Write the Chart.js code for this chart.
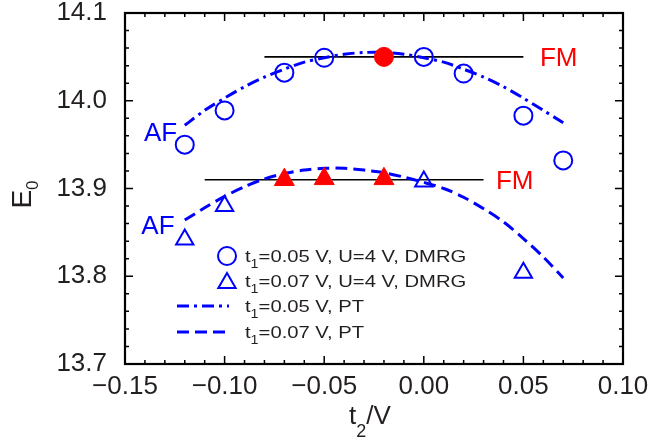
<!DOCTYPE html>
<html>
<head>
<meta charset="utf-8">
<script src="https://cdn.jsdelivr.net/npm/chart.js@4.4.1/dist/chart.umd.min.js"></script>
<style>
	html, body { margin: 0; padding: 0; background: #fff; }
	canvas { display: block; }
</style>
</head>
<body>
<canvas id="energy_chart" width="648" height="441"></canvas>
<script>
// DMRG ground state energies, t1 = 0.05 V (open circles) and the FM point (filled)
const dmrg_005_t2 = [-0.12, -0.1, -0.07, -0.05, 0.0, 0.02, 0.05, 0.07]
const dmrg_005_e0 = [13.95, 13.989, 14.032, 14.049, 14.05, 14.031, 13.983, 13.932]
const dmrg_005_fm_t2 = [-0.02]
const dmrg_005_fm_e0 = [14.05]

// DMRG, t1 = 0.07 V (open triangles) and FM points (filled)
const dmrg_007_t2 = [-0.12, -0.1, 0.0, 0.05]
const dmrg_007_e0 = [13.842, 13.88, 13.908, 13.804]
const dmrg_007_fm_t2 = [-0.07, -0.05, -0.02]
const dmrg_007_fm_e0 = [13.91, 13.911, 13.911]

// perturbation theory curves
const pt_t2 = [-0.12, -0.11, -0.1, -0.09, -0.08, -0.07, -0.06, -0.05, -0.04, -0.03,
	-0.02, -0.01, 0.0, 0.01, 0.02, 0.03, 0.04, 0.05, 0.06, 0.07]
const pt_005_e0 = [13.972, 13.989, 14.003, 14.016, 14.027, 14.036, 14.044, 14.049, 14.053, 14.055,
	14.055, 14.053, 14.049, 14.044, 14.036, 14.027, 14.016, 14.003, 13.989, 13.975]
const pt_007_e0 = [13.864, 13.878, 13.891, 13.902, 13.911, 13.917, 13.921, 13.923, 13.923, 13.921,
	13.918, 13.913, 13.907, 13.9, 13.89, 13.877, 13.862, 13.843, 13.822, 13.798]

// FM energy levels (black lines)
const fm_005_t2 = [-0.08, 0.05]
const fm_005_e0 = [14.05, 14.05]
const fm_007_t2 = [-0.11, 0.03]
const fm_007_e0 = [13.91, 13.91]

const x_ticks = [-0.15, -0.1, -0.05, 0.0, 0.05, 0.1]
const y_ticks = [13.7, 13.8, 13.9, 14.0, 14.1]
const legend_labels = [
	't_1=0.05 V, U=4 V, DMRG',
	't_1=0.07 V, U=4 V, DMRG',
	't_1=0.05 V, PT',
	't_1=0.07 V, PT',
]
const state_labels = ['AF', 'AF', 'FM', 'FM']

const font_family = '"Liberation Sans", Arial, Helvetica, sans-serif'
const blue = '#0000ff'
const red = '#ff0000'
const ink = '#231f20'
const dash_dot = [12, 5, 3, 5]
const dashed = [12, 6]

Chart.defaults.font.family = font_family

const to_points = (xs, ys) => xs.map((x, i) => ({ x: x, y: ys[i] }))

// 't_1=...' -> [['t', false], ['1', true], ['=...', false]]
function split_sub(str) {
	const parts = []
	let buf = ''
	for (let i = 0; i < str.length; i++) {
		if (str[i] === '_') {
			if (buf) parts.push([buf, false])
			parts.push([str[i + 1], true])
			buf = ''
			i++
		} else {
			buf += str[i]
		}
	}
	if (buf) parts.push([buf, false])
	return parts
}

function sub_text_width(ctx, str, size, sub_size) {
	let w = 0
	for (const [t, is_sub] of split_sub(str)) {
		ctx.font = (is_sub ? sub_size : size) + 'px ' + font_family
		w += ctx.measureText(t).width
	}
	return w
}

function draw_sub_text(ctx, str, x, y, size, sub_size, sub_drop) {
	let cx = x
	for (const [t, is_sub] of split_sub(str)) {
		ctx.font = (is_sub ? sub_size : size) + 'px ' + font_family
		ctx.fillText(t, cx, is_sub ? y + sub_drop : y)
		cx += ctx.measureText(t).width
	}
}

function draw_marker(ctx, style, x, y, radius, color, filled) {
	ctx.save()
	ctx.strokeStyle = color
	ctx.fillStyle = filled ? color : 'rgba(0,0,0,0)'
	ctx.lineWidth = 2
	Chart.helpers.drawPoint(ctx, { pointStyle: style, radius: radius, rotation: 0, borderWidth: 2 }, x, y)
	ctx.restore()
}

// closed frame with inward ticks on all four sides
const frame_plugin = {
	id: 'frame',
	afterDraw(chart) {
		const ctx = chart.ctx
		const a = chart.chartArea
		const xs = chart.scales.x
		const ys = chart.scales.y
		ctx.save()
		ctx.strokeStyle = '#000'
		ctx.lineWidth = 1.5
		ctx.beginPath()
		for (let i = 0; i <= 25; i++) {
			const px = xs.getPixelForValue(xs.min + i * 0.01)
			const len = i % 5 === 0 ? 8 : 4
			ctx.moveTo(px, a.bottom)
			ctx.lineTo(px, a.bottom - len)
			ctx.moveTo(px, a.top)
			ctx.lineTo(px, a.top + len)
		}
		for (let i = 0; i <= 20; i++) {
			const py = ys.getPixelForValue(ys.min + i * 0.02)
			const len = i % 5 === 0 ? 8 : 4
			ctx.moveTo(a.left, py)
			ctx.lineTo(a.left + len, py)
			ctx.moveTo(a.right, py)
			ctx.lineTo(a.right - len, py)
		}
		ctx.stroke()
		ctx.lineWidth = 2.2
		ctx.strokeRect(a.left, a.top, a.right - a.left, a.bottom - a.top)
		ctx.restore()
	},
}

// axis titles with subscripts, state labels and the inset legend
const text_plugin = {
	id: 'texts',
	afterDraw(chart) {
		const ctx = chart.ctx
		const a = chart.chartArea
		const xs = chart.scales.x
		const ys = chart.scales.y
		ctx.save()
		ctx.textBaseline = 'alphabetic'
		ctx.textAlign = 'left'

		// x title
		ctx.fillStyle = ink
		const xt = 't_2/V'
		const xw = sub_text_width(ctx, xt, 26, 18)
		draw_sub_text(ctx, xt, (a.left + a.right) / 2 - xw / 2 - 4, a.bottom + 60, 26, 18, 13)

		// y title, rotated
		const yt = 'E_0'
		const yw = sub_text_width(ctx, yt, 28, 17)
		ctx.save()
		ctx.translate(31, (a.top + a.bottom) / 2 + 6)
		ctx.rotate(-Math.PI / 2)
		draw_sub_text(ctx, yt, -yw / 2, 0, 28, 17, 7)
		ctx.restore()

		// AF / FM labels
		const spots = [
			[-0.1405, 13.954, blue],
			[-0.1418, 13.848, blue],
			[0.0583, 14.04, red],
			[0.0362, 13.899, red],
		]
		ctx.font = '26px ' + font_family
		state_labels.forEach((t, i) => {
			ctx.fillStyle = spots[i][2]
			ctx.fillText(t, xs.getPixelForValue(spots[i][0]), ys.getPixelForValue(spots[i][1]))
		})

		// legend
		const lx = a.left + 102
		const rows = [a.top + 243, a.top + 268, a.top + 293, a.top + 319]
		draw_marker(ctx, 'circle', lx, rows[0], 9, blue, false)
		draw_marker(ctx, 'triangle', lx, rows[1] + 2, 10, blue, false)
		ctx.strokeStyle = blue
		ctx.lineWidth = 3
		;[dash_dot, dashed].forEach((d, i) => {
			ctx.setLineDash(d)
			ctx.beginPath()
			ctx.moveTo(a.left + 52, rows[2 + i])
			ctx.lineTo(a.left + 104, rows[2 + i])
			ctx.stroke()
		})
		ctx.setLineDash([])
		ctx.fillStyle = ink
		legend_labels.forEach((t, i) => {
			ctx.save()
			ctx.translate(a.left + 120, rows[i] + 6)
			ctx.scale(1.19, 1)
			draw_sub_text(ctx, t, 0, 0, 17, 12, 6)
			ctx.restore()
		})
		ctx.restore()
	},
}

const tick_label = (v, digits) => (v < 0 ? '\u2212' : '') + Math.abs(v).toFixed(digits)

// eslint-disable-next-line
const energy_chart = new Chart(document.getElementById('energy_chart'), {
	type: 'scatter',
	data: {
		datasets: [
			{
				label: 'FM t1=0.05',
				data: to_points(dmrg_005_fm_t2, dmrg_005_fm_e0),
				pointStyle: 'circle',
				pointRadius: 9.5,
				pointBackgroundColor: red,
				pointBorderColor: red,
				pointBorderWidth: 1,
			},
			{
				label: 'FM t1=0.07',
				data: to_points(dmrg_007_fm_t2, dmrg_007_fm_e0),
				pointStyle: 'triangle',
				pointRadius: 11.5,
				pointBackgroundColor: red,
				pointBorderColor: red,
				pointBorderWidth: 1,
			},
			{
				label: legend_labels[0],
				data: to_points(dmrg_005_t2, dmrg_005_e0),
				pointStyle: 'circle',
				pointRadius: 9,
				pointBackgroundColor: 'rgba(0,0,0,0)',
				pointBorderColor: blue,
				pointBorderWidth: 2,
			},
			{
				label: legend_labels[1],
				data: to_points(dmrg_007_t2, dmrg_007_e0),
				pointStyle: 'triangle',
				pointRadius: 10,
				pointBackgroundColor: 'rgba(0,0,0,0)',
				pointBorderColor: blue,
				pointBorderWidth: 2,
			},
			{
				label: legend_labels[2],
				data: to_points(pt_t2, pt_005_e0),
				showLine: true,
				pointRadius: 0,
				borderColor: blue,
				borderWidth: 3,
				borderDash: dash_dot,
				tension: 0.3,
			},
			{
				label: legend_labels[3],
				data: to_points(pt_t2, pt_007_e0),
				showLine: true,
				pointRadius: 0,
				borderColor: blue,
				borderWidth: 3,
				borderDash: dashed,
				tension: 0.3,
			},
			{
				label: 'FM level t1=0.05',
				data: to_points(fm_005_t2, fm_005_e0),
				showLine: true,
				pointRadius: 0,
				borderColor: '#000',
				borderWidth: 1.6,
			},
			{
				label: 'FM level t1=0.07',
				data: to_points(fm_007_t2, fm_007_e0),
				showLine: true,
				pointRadius: 0,
				borderColor: '#000',
				borderWidth: 1.6,
			},
		],
	},
	options: {
		responsive: false,
		animation: false,
		devicePixelRatio: 1,
		layout: { padding: { top: 13, right: 25, left: 0, bottom: 0 } },
		plugins: {
			legend: { display: false },
			tooltip: { enabled: false },
		},
		scales: {
			x: {
				type: 'linear',
				min: -0.15,
				max: 0.1,
				afterBuildTicks: (s) => {
					s.ticks = x_ticks.map((v) => ({ value: v }))
				},
				afterFit: (s) => {
					s.height = 77
					s.paddingLeft = 0
					s.paddingRight = 0
				},
				grid: { display: false, drawTicks: false },
				border: { display: false },
				ticks: {
					padding: 7,
					color: ink,
					font: { size: 26 },
					maxRotation: 0,
					autoSkip: false,
					callback: (v) => tick_label(v, 2),
				},
			},
			y: {
				type: 'linear',
				min: 13.7,
				max: 14.1,
				afterBuildTicks: (s) => {
					s.ticks = y_ticks.map((v) => ({ value: v }))
				},
				afterFit: (s) => {
					s.width = 125
					s.paddingTop = 0
					s.paddingBottom = 0
				},
				grid: { display: false, drawTicks: false },
				border: { display: false },
				ticks: {
					padding: 18,
					color: ink,
					font: { size: 26 },
					autoSkip: false,
					callback: (v) => tick_label(v, 1),
				},
			},
		},
	},
	plugins: [frame_plugin, text_plugin],
})
</script>
</body>
</html>
